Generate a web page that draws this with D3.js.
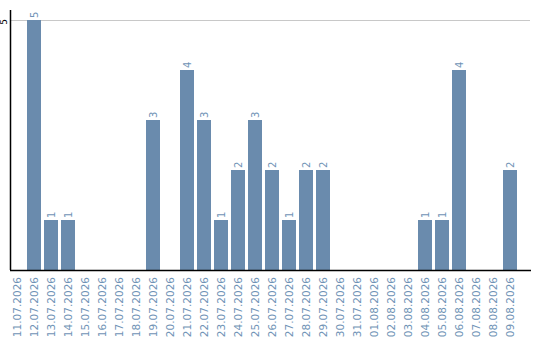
<!DOCTYPE html>
<html>
<head>
<meta charset="utf-8">
<script src="https://cdn.jsdelivr.net/npm/d3@7"></script>
<style>
  html, body { margin: 0; padding: 0; background: #fff; }
  svg { display: block; font-family: "DejaVu Sans", sans-serif; }
</style>
</head>
<body>
<svg id="chart" width="540" height="340"></svg>
<script>
// Daily counts, 11.07.2026 – 09.08.2026
const dates = [
  "11.07.2026", "12.07.2026", "13.07.2026", "14.07.2026", "15.07.2026",
  "16.07.2026", "17.07.2026", "18.07.2026", "19.07.2026", "20.07.2026",
  "21.07.2026", "22.07.2026", "23.07.2026", "24.07.2026", "25.07.2026",
  "26.07.2026", "27.07.2026", "28.07.2026", "29.07.2026", "30.07.2026",
  "31.07.2026", "01.08.2026", "02.08.2026", "03.08.2026", "04.08.2026",
  "05.08.2026", "06.08.2026", "07.08.2026", "08.08.2026", "09.08.2026"
];
const counts = [
  0, 5, 1, 1, 0,
  0, 0, 0, 3, 0,
  4, 3, 1, 2, 3,
  2, 1, 2, 2, 0,
  0, 0, 0, 0, 1,
  1, 4, 0, 0, 2
];
const yTicks = [5];

const svg = d3.select("#chart");
const plotLeft = 10, plotBottom = 270, plotTop = 20, plotRight = 531;

const x = d3.scaleBand()
  .domain(dates)
  .range([plotLeft, 517])
  .paddingInner(3 / 17)
  .paddingOuter(0)
  .align(0);

const y = d3.scaleLinear()
  .domain([0, 5])
  .range([plotBottom, plotTop]);

const barColor = "#6a8bad";
const labelColor = "#7093b6";

const rows = dates.map((d, i) => ({ date: d, value: counts[i] }));

// gridlines
svg.append("g")
  .selectAll("line")
  .data(yTicks)
  .join("line")
  .attr("x1", plotLeft)
  .attr("x2", 530)
  .attr("y1", d => y(d) + 0.5)
  .attr("y2", d => y(d) + 0.5)
  .attr("stroke", "#c8c8c8")
  .attr("stroke-width", 1);

// bars
svg.append("g")
  .selectAll("rect")
  .data(rows)
  .join("rect")
  .attr("x", d => x(d.date))
  .attr("width", x.bandwidth())
  .attr("y", d => y(d.value))
  .attr("height", d => plotBottom - y(d.value))
  .attr("fill", barColor);

// value labels, rotated above each bar
svg.append("g")
  .selectAll("text")
  .data(rows.filter(d => d.value > 0))
  .join("text")
  .attr("transform", d => `translate(${x(d.date) + x.bandwidth() / 2 + 3.5},${y(d.value) - 2}) rotate(-90)`)
  .attr("text-anchor", "start")
  .attr("font-size", 10)
  .attr("fill", labelColor)
  .text(d => d.value);

// y axis
svg.append("line")
  .attr("x1", plotLeft + 0.5).attr("x2", plotLeft + 0.5)
  .attr("y1", 10).attr("y2", plotBottom)
  .attr("stroke", "#000").attr("stroke-width", 1.5);

svg.append("g")
  .selectAll("text")
  .data(yTicks)
  .join("text")
  .attr("transform", d => `translate(7,${y(d) + 2}) rotate(-90)`)
  .attr("text-anchor", "middle")
  .attr("font-size", 9)
  .attr("fill", "#000")
  .text(d => d);

// x baseline
svg.append("line")
  .attr("x1", plotLeft).attr("x2", plotRight)
  .attr("y1", plotBottom + 0.5).attr("y2", plotBottom + 0.5)
  .attr("stroke", "#000").attr("stroke-width", 1.5);

// date labels
svg.append("g")
  .selectAll("text")
  .data(dates)
  .join("text")
  .attr("transform", d => `translate(${x(d) + x.bandwidth() / 2 + 4},277) rotate(-90)`)
  .attr("text-anchor", "end")
  .attr("font-size", 10.5)
  .attr("fill", labelColor)
  .text(d => d);
</script>
</body>
</html>
